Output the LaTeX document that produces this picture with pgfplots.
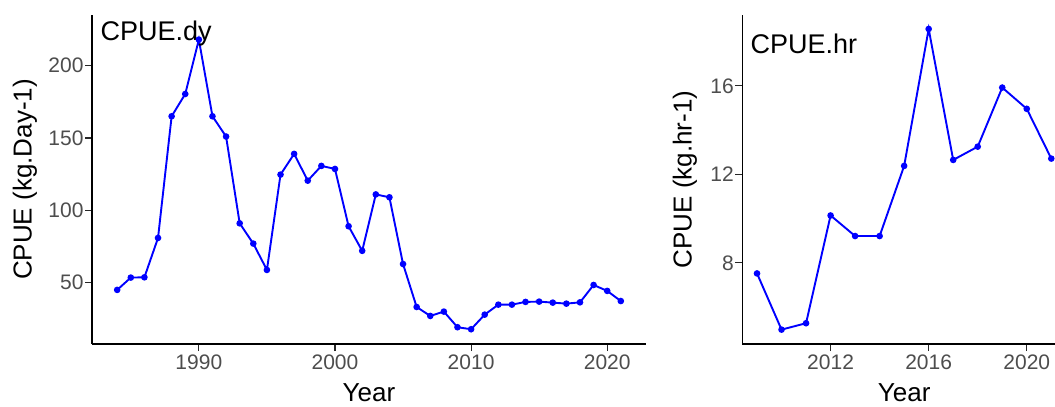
\documentclass[border=0pt]{standalone}
\usepackage{fontspec}
\setmainfont{Liberation Sans}
\usepackage{pgfplots}
\pgfplotsset{compat=1.18}
\definecolor{ticklab}{HTML}{4D4D4D}
\begin{document}
\begin{tikzpicture}
\pgfplotsset{
  cpue/.style={
    scale only axis,
    height=329pt,
    axis lines=left,
    axis line style={-, line width=1.1pt, black},
    tick style={line width=1.1pt, black!85},
    major tick length=7pt,
    tick align=outside,
    xtick pos=bottom, ytick pos=left,
    /pgf/number format/assume math mode=true,
    /pgf/number format/set thousands separator={},
    ticklabel style={font=\fontsize{21}{25}\selectfont, text=ticklab},
    yticklabel style={xshift=2pt},
    every axis x label/.style={at={(axis description cs:0.5,-0.1748)}, anchor=base, inner sep=0pt, font=\fontsize{26}{30}\selectfont},
    clip=false,
  },
  cpueline/.style={blue, line width=1.9pt, mark=*, mark size=2.3pt, mark options={blue}},
}
\begin{axis}[cpue,
  at={(92pt,-344pt)}, anchor=south west,
  width=554pt,
  xmin=1982.15, xmax=2022.85, ymin=7.6, ymax=235,
  xtick={1990,2000,2010,2020}, ytick={50,100,150,200},
  xlabel={Year}, ylabel={CPUE (kg.Day-1)},
  every axis y label/.style={at={(axis description cs:-0.1209,0.5)}, rotate=90, anchor=center, font=\fontsize{26}{30}\selectfont},
]
\addplot[cpueline] coordinates {
(1984,45) (1985,53.5) (1986,53.7) (1987,80.9) (1988,165) (1989,180.4)
(1990,218) (1991,165) (1992,151) (1993,91) (1994,77) (1995,58.8)
(1996,124.7) (1997,139) (1998,120.5) (1999,130.7) (2000,128.6) (2001,89)
(2002,72) (2003,111) (2004,109) (2005,62.9) (2006,33.2) (2007,27)
(2008,30) (2009,19.2) (2010,17.8) (2011,27.9) (2012,34.8) (2013,34.8)
(2014,36.7) (2015,36.9) (2016,36.2) (2017,35.5) (2018,36.4) (2019,48.4)
(2020,44.3) (2021,37.3)
};
\node[anchor=base west, inner sep=0pt, font=\fontsize{27}{32}\selectfont] at (rel axis cs:0.0152,0.924) {CPUE.dy};
\end{axis}
\begin{axis}[cpue,
  at={(742.3pt,-344pt)}, anchor=south west,
  width=323.7pt,
  xmin=2008.4, xmax=2021.6, ymin=4.33, ymax=19.2,
  xtick={2012,2016,2020}, ytick={8,12,16},
  xlabel={Year}, ylabel={CPUE (kg.hr-1)},
  every axis y label/.style={at={(axis description cs:-0.177,0.5)}, rotate=90, anchor=center, font=\fontsize{26}{30}\selectfont},
]
\addplot[cpueline] coordinates {
(2009,7.52) (2010,4.98) (2011,5.27) (2012,10.14) (2013,9.21) (2014,9.21)
(2015,12.38) (2016,18.57) (2017,12.65) (2018,13.25) (2019,15.92) (2020,14.96)
(2021,12.71)
};
\node[anchor=base west, inner sep=0pt, font=\fontsize{27}{32}\selectfont] at (rel axis cs:0.025,0.8836) {CPUE.hr};
\end{axis}
\pgfresetboundingbox
\path (0,0) rectangle (1055pt,-407pt);
\end{tikzpicture}
\end{document}
